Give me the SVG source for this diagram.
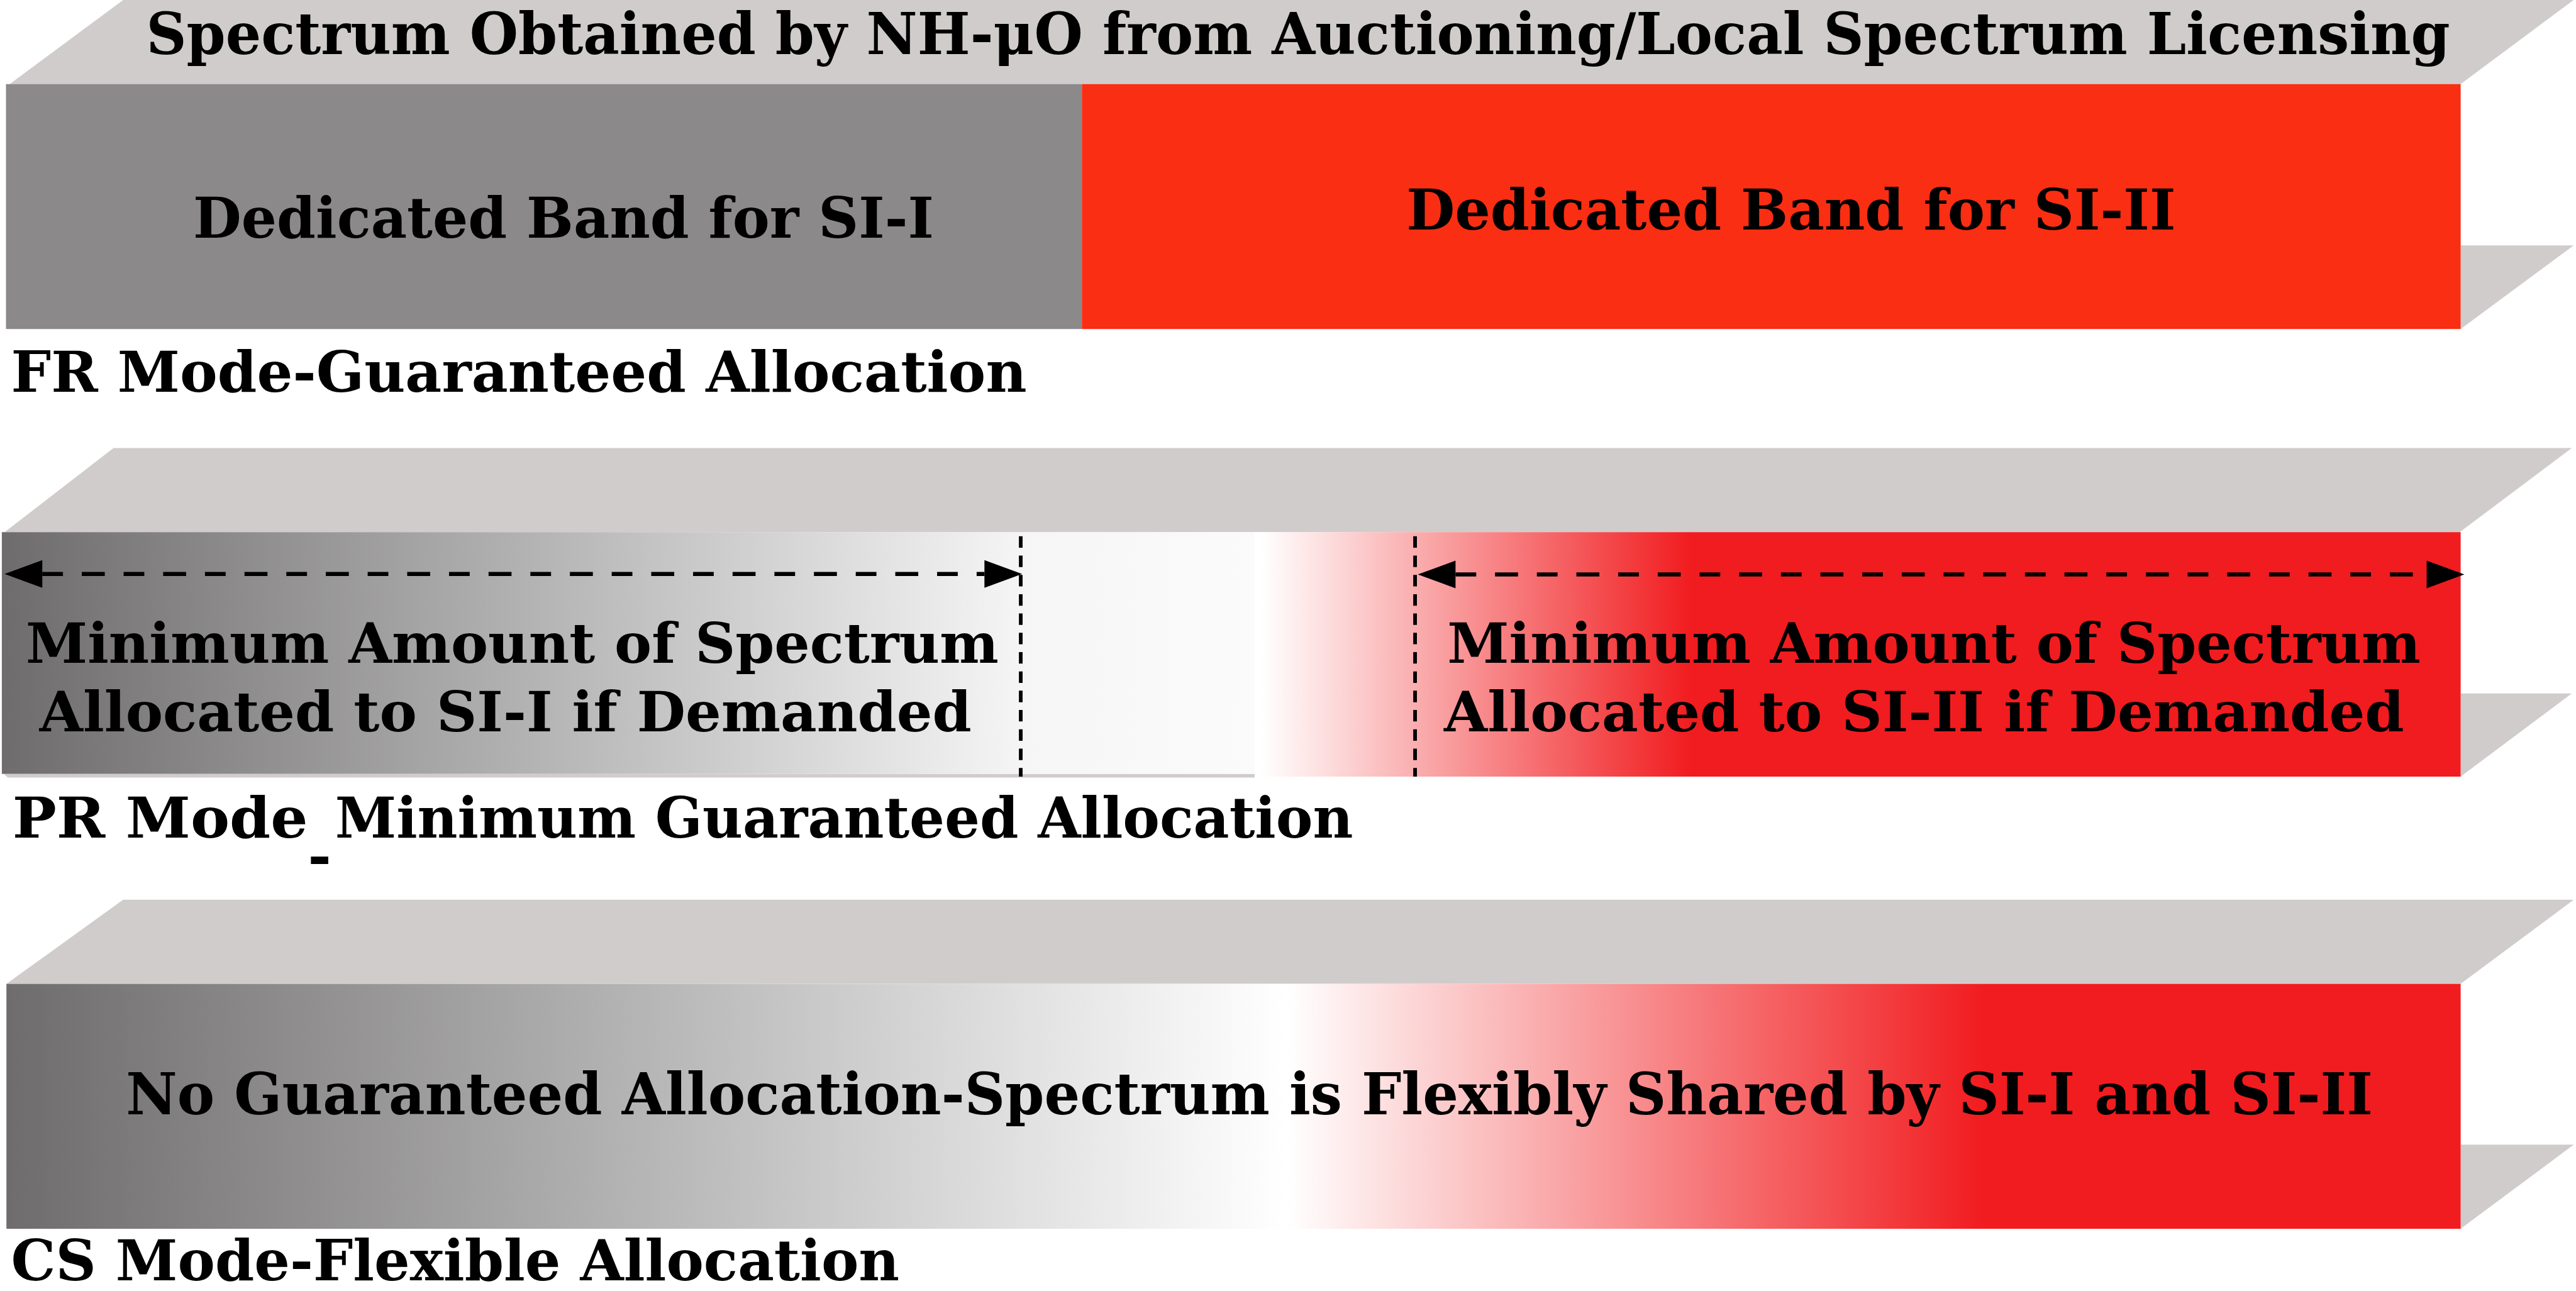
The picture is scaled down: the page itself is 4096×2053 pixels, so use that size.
<svg xmlns="http://www.w3.org/2000/svg" width="4096" height="2053" viewBox="0 0 4096 2053">
<style>
  .top { fill: #d1cccc; }
  .side { fill: #d1cccc; }
  .t { font-family: "DejaVu Serif", "Liberation Serif", serif; font-weight: bold; fill: #000; }
  .dashv { stroke: #000; stroke-width: 8; stroke-dasharray: 25 17; fill: none; }
  .dashh { stroke: #000; stroke-width: 9; stroke-dasharray: 45 41 50 41; fill: none; }
</style>
<defs>
  <linearGradient id="gPR1" gradientUnits="userSpaceOnUse" x1="4" y1="0" x2="2730" y2="0">
    <stop offset="0" stop-color="#6e6c6d"/>
    <stop offset="0.82" stop-color="#f6f6f6"/>
    <stop offset="1" stop-color="#fbfbfb"/>
  </linearGradient>
  <linearGradient id="gPR2" gradientUnits="userSpaceOnUse" x1="2745" y1="0" x2="3680" y2="0">
    <stop offset="0" stop-color="#ffffff"/>
    <stop offset="1" stop-color="#f11c1f"/>
  </linearGradient>
  <linearGradient id="gCS" gradientUnits="userSpaceOnUse" x1="14" y1="0" x2="5354" y2="0">
    <stop offset="0" stop-color="#6e6c6d"/>
    <stop offset="0.5217" stop-color="#ffffff"/>
    <stop offset="0.806" stop-color="#f11c1f"/>
    <stop offset="1" stop-color="#f11c1f"/>
  </linearGradient>
  <marker id="head" markerUnits="userSpaceOnUse" markerWidth="90" markerHeight="70" refX="0" refY="0" orient="auto-start-reverse" overflow="visible">
    <path d="M0,-30 L82,0 L0,30 Z" fill="#000"/>
  </marker>
</defs>
<g transform="scale(0.730776)">
  <g id="fr-mode">
    <polygon class="top" points="268,0 5600,0 5354,183 21,183"/>
    <polygon class="side" points="5354,534 5600,534 5354,716"/>
    <rect id="fr-si1" x="13" y="183" width="2341" height="533" fill="#8b898a"/>
    <rect id="fr-si2" x="2354" y="183" width="3000" height="533" fill="#f92e12"/>
    <text class="t" x="318" y="118" font-size="126" textLength="5013" lengthAdjust="spacingAndGlyphs">Spectrum Obtained by NH-μO from Auctioning/Local Spectrum Licensing</text>
    <text class="t" x="420" y="517" font-size="123" textLength="1612" lengthAdjust="spacingAndGlyphs">Dedicated Band for SI-I</text>
    <text class="t" x="3060" y="499" font-size="123" textLength="1674" lengthAdjust="spacingAndGlyphs">Dedicated Band for SI-II</text>
    <text class="t" x="24" y="852" font-size="123" textLength="2210" lengthAdjust="spacingAndGlyphs">FR Mode-Guaranteed Allocation</text>
  </g>
  <g id="pr-mode">
    <polygon class="top" points="247,975 5596,975 5352,1158 10,1158"/>
    <polygon class="side" points="5354,1509 5596,1509 5354,1690"/>
    <polygon class="top" points="8,1684 2730,1684 2730,1692 17,1692"/>
    <rect id="pr-si1" x="4" y="1158" width="2726" height="526" fill="url(#gPR1)"/>
    <rect id="pr-si2" x="2730" y="1158" width="2624" height="532" fill="url(#gPR2)"/>
    <text class="t" x="56" y="1442" font-size="120" textLength="2117" lengthAdjust="spacingAndGlyphs">Minimum Amount of Spectrum</text>
    <text class="t" x="86" y="1591" font-size="120" textLength="2028" lengthAdjust="spacingAndGlyphs">Allocated to SI-I if Demanded</text>
    <text class="t" x="3149" y="1442" font-size="120" textLength="2118" lengthAdjust="spacingAndGlyphs">Minimum Amount of Spectrum</text>
    <text class="t" x="3142" y="1592" font-size="120" textLength="2089" lengthAdjust="spacingAndGlyphs">Allocated to SI-II if Demanded</text>
    <text class="t" x="27" y="1823" font-size="123"><tspan textLength="643" lengthAdjust="spacingAndGlyphs">PR Mode</tspan><tspan x="670" y="1905">-</tspan><tspan x="729" y="1823" textLength="2215" lengthAdjust="spacingAndGlyphs">Minimum Guaranteed Allocation</tspan></text>
  </g>
  <g id="cs-mode">
    <polygon class="top" points="268,1958 5600,1958 5354,2141 14,2141"/>
    <polygon class="side" points="5354,2491 5600,2491 5354,2674"/>
    <rect id="cs-band" x="14" y="2141" width="5340" height="533" fill="url(#gCS)"/>
    <text class="t" x="274" y="2425" font-size="126" textLength="4889" lengthAdjust="spacingAndGlyphs">No Guaranteed Allocation-Spectrum is Flexibly Shared by SI-I and SI-II</text>
    <text class="t" x="24" y="2786" font-size="122" textLength="1933" lengthAdjust="spacingAndGlyphs">CS Mode-Flexible Allocation</text>
  </g>
  <g id="connectors">
    <line class="dashv" x1="2221" y1="1167" x2="2221" y2="1690"/>
    <line class="dashv" x1="3079" y1="1167" x2="3079" y2="1690"/>
    <line class="dashh" x1="92" y1="1249" x2="2142" y2="1249" marker-start="url(#head)" marker-end="url(#head)"/>
    <line class="dashh" x1="3167" y1="1250" x2="5280" y2="1250" marker-start="url(#head)" marker-end="url(#head)"/>
  </g>
</g>
</svg>
